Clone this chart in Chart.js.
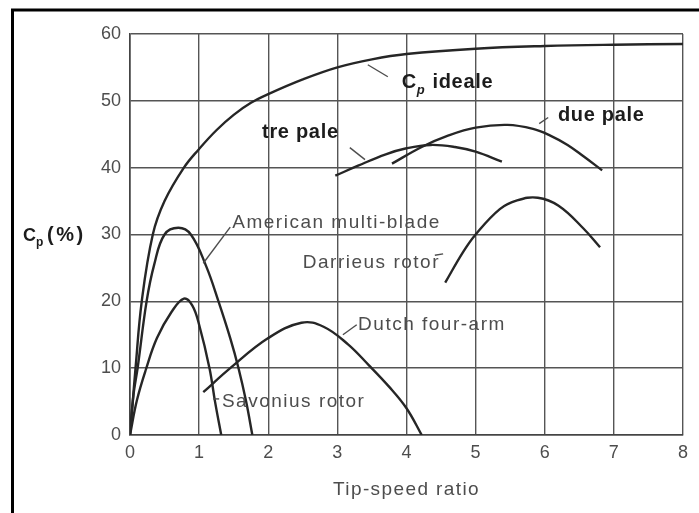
<!DOCTYPE html>
<html>
<head>
<meta charset="utf-8">
<script src="https://cdn.jsdelivr.net/npm/chart.js@4.4.1/dist/chart.umd.min.js"></script>
<style>
  html, body { margin: 0; padding: 0; background: #fff; }
  canvas { display: block; }
</style>
</head>
<body>
<canvas id="cpChart" width="699" height="513"></canvas>
<script>
// Power coefficient Cp (%) against tip-speed ratio
const idealeX = [0, 0.04, 0.08, 0.17, 0.33, 0.5, 0.78, 1.0, 1.25, 1.5, 1.75, 2.0, 2.5, 3.0, 3.5, 4.0, 5.0, 6.0, 7.0, 8.0];
const idealeY = [0, 5, 10, 20, 30, 35, 40, 42.8, 45.6, 47.9, 49.7, 51.0, 53.2, 55, 56.2, 57, 57.8, 58.2, 58.4, 58.5];

const americanX = [0, 0.05, 0.11, 0.24, 0.35, 0.5, 0.7, 0.88, 1.1, 1.28, 1.45, 1.57, 1.68, 1.77];
const americanY = [0, 6, 10, 20, 25.5, 30, 31, 30, 25.3, 20, 14.5, 10, 5, 0];

const savoniusX = [0, 0.1, 0.23, 0.39, 0.6, 0.78, 0.9, 1.0, 1.15, 1.23, 1.32];
const savoniusY = [0, 5.2, 9.8, 14.5, 18.4, 20.4, 19.4, 16.5, 10, 5, 0];

const dutchX = [1.06, 1.45, 2.0, 2.48, 2.8, 3.15, 3.45, 3.75, 4.0, 4.22];
const dutchY = [6.4, 10, 14.5, 16.8, 16.2, 13.6, 10.5, 7.2, 4, 0];

const trePaleX = [2.97, 3.3, 3.7, 4.0, 4.35, 4.7, 5.0, 5.38];
const trePaleY = [38.8, 40.3, 42, 42.9, 43.4, 43.1, 42.4, 40.9];

const duePaleX = [3.79, 4.22, 4.6, 5.0, 5.46, 5.83, 6.08, 6.33, 6.56, 6.83];
const duePaleY = [40.6, 43.1, 44.8, 46.0, 46.4, 45.8, 44.8, 43.4, 41.7, 39.6];

const darrieusX = [4.56, 4.82, 5.0, 5.35, 5.6, 5.9, 6.2, 6.56, 6.8];
const darrieusY = [22.8, 27.4, 30, 33.8, 35.1, 35.5, 34.3, 30.9, 28.1];

const xTicks = [0, 1, 2, 3, 4, 5, 6, 7, 8];
const yTicks = [0, 10, 20, 30, 40, 50, 60];

// curve labels (text + anchor in data units) and their leader strokes
const plainLabels = [
  { text: 'American multi-blade', x: 1.48, y: 31.0 },
  { text: 'Darrieus rotor', x: 2.5, y: 25.0 },
  { text: 'Dutch four-arm', x: 3.3, y: 15.7 },
  { text: 'Savonius rotor', x: 1.33, y: 4.2 }
];
const boldLabels = [
  { text: 'tre pale', x: 1.91, y: 44.4 },
  { text: 'due pale', x: 6.19, y: 47.0 }
];
const leaders = [
  [3.44, 55.4, 3.73, 53.6],
  [3.18, 43.0, 3.40, 41.2],
  [5.92, 46.6, 6.05, 47.5],
  [1.45, 31.1, 1.06, 25.7],
  [4.41, 26.9, 4.53, 27.1],
  [3.28, 16.5, 3.08, 15.0],
  [1.20, 5.4, 1.29, 5.4]
];

const FONT = '"Liberation Sans", Arial, Helvetica, sans-serif';
const INK = '#262626';
const GREY = '#4d4d4d';

function toPoints(xs, ys) {
  return xs.map((v, i) => ({ x: v, y: ys[i] }));
}

function curve(label, xs, ys) {
  return {
    label: label,
    data: toPoints(xs, ys),
    borderColor: INK,
    borderWidth: 2.4,
    pointRadius: 0,
    fill: false,
    tension: 0.4
  };
}

const annotate = {
  id: 'annotate',
  beforeDraw(chart) {
    const ctx = chart.ctx;
    ctx.save();
    ctx.fillStyle = '#fff';
    ctx.fillRect(0, 0, chart.width, chart.height);
    // scanned page frame
    ctx.strokeStyle = '#000';
    ctx.lineWidth = 3;
    ctx.beginPath();
    ctx.moveTo(12.5, chart.height);
    ctx.lineTo(12.5, 10);
    ctx.lineTo(chart.width, 10);
    ctx.stroke();
    ctx.restore();
  },
  afterDatasetsDraw(chart) {
    const { ctx, chartArea } = chart;
    const xs = chart.scales.x, ys = chart.scales.y;
    const px = v => xs.getPixelForValue(v);
    const py = v => ys.getPixelForValue(v);
    ctx.save();

    ctx.strokeStyle = GREY;
    ctx.lineWidth = 1.4;
    leaders.forEach(l => {
      ctx.beginPath();
      ctx.moveTo(px(l[0]), py(l[1]));
      ctx.lineTo(px(l[2]), py(l[3]));
      ctx.stroke();
    });

    ctx.textBaseline = 'alphabetic';
    ctx.textAlign = 'left';

    ctx.font = '19px ' + FONT;
    ctx.letterSpacing = '1.5px';
    ctx.fillStyle = GREY;
    plainLabels.forEach(l => ctx.fillText(l.text, px(l.x), py(l.y)));

    ctx.font = 'bold 20px ' + FONT;
    ctx.letterSpacing = '0.7px';
    ctx.fillStyle = '#1c1c1c';
    boldLabels.forEach(l => ctx.fillText(l.text, px(l.x), py(l.y)));

    // "Cp ideale"
    let cx = px(3.93), cy = py(51.9);
    ctx.fillText('C', cx, cy);
    cx += ctx.measureText('C').width;
    ctx.font = 'italic bold 13px ' + FONT;
    ctx.fillText('p', cx, cy + 6);
    cx += ctx.measureText('p').width + 7;
    ctx.font = 'bold 20px ' + FONT;
    ctx.fillText('ideale', cx, cy);

    // y axis title "Cp (%)"
    let tx = chartArea.left - 107, ty = py(29);
    ctx.font = 'bold 18px ' + FONT;
    ctx.letterSpacing = '0px';
    ctx.fillText('C', tx, ty);
    tx += ctx.measureText('C').width;
    ctx.font = 'bold 12px ' + FONT;
    ctx.fillText('p', tx, ty + 5);
    ctx.font = 'bold 20px ' + FONT;
    ctx.letterSpacing = '2.5px';
    ctx.fillText('(%)', chartArea.left - 83, ty);

    // x axis title
    ctx.font = '19px ' + FONT;
    ctx.letterSpacing = '1.4px';
    ctx.fillStyle = GREY;
    ctx.textAlign = 'center';
    ctx.fillText('Tip-speed ratio', (chartArea.left + chartArea.right) / 2, chartArea.bottom + 60);

    ctx.restore();
  }
};

new Chart(document.getElementById('cpChart'), {
  type: 'line',
  data: {
    datasets: [
      curve('Cp ideale', idealeX, idealeY),
      curve('American multi-blade', americanX, americanY),
      curve('Savonius rotor', savoniusX, savoniusY),
      curve('Dutch four-arm', dutchX, dutchY),
      curve('tre pale', trePaleX, trePaleY),
      curve('due pale', duePaleX, duePaleY),
      curve('Darrieus rotor', darrieusX, darrieusY)
    ]
  },
  options: {
    responsive: false,
    animation: false,
    layout: { padding: { top: 34, right: 16, left: 0, bottom: 0 } },
    plugins: {
      legend: { display: false },
      tooltip: { enabled: false }
    },
    scales: {
      x: {
        type: 'linear',
        min: 0,
        max: 8,
        afterFit: s => { s.height = 78; },
        afterBuildTicks: s => { s.ticks = xTicks.map(v => ({ value: v })); },
        grid: { color: '#555', lineWidth: 1.4, drawTicks: false },
        border: { color: '#444', width: 1.6 },
        ticks: { color: GREY, padding: 7, font: { family: FONT, size: 18 } }
      },
      y: {
        min: 0,
        max: 60,
        afterFit: s => { s.width = 130; },
        afterBuildTicks: s => { s.ticks = yTicks.map(v => ({ value: v })); },
        grid: { color: '#555', lineWidth: 1.4, drawTicks: false },
        border: { color: '#444', width: 1.6 },
        ticks: { color: GREY, padding: 9, font: { family: FONT, size: 18 } }
      }
    }
  },
  plugins: [annotate]
});
</script>
</body>
</html>
